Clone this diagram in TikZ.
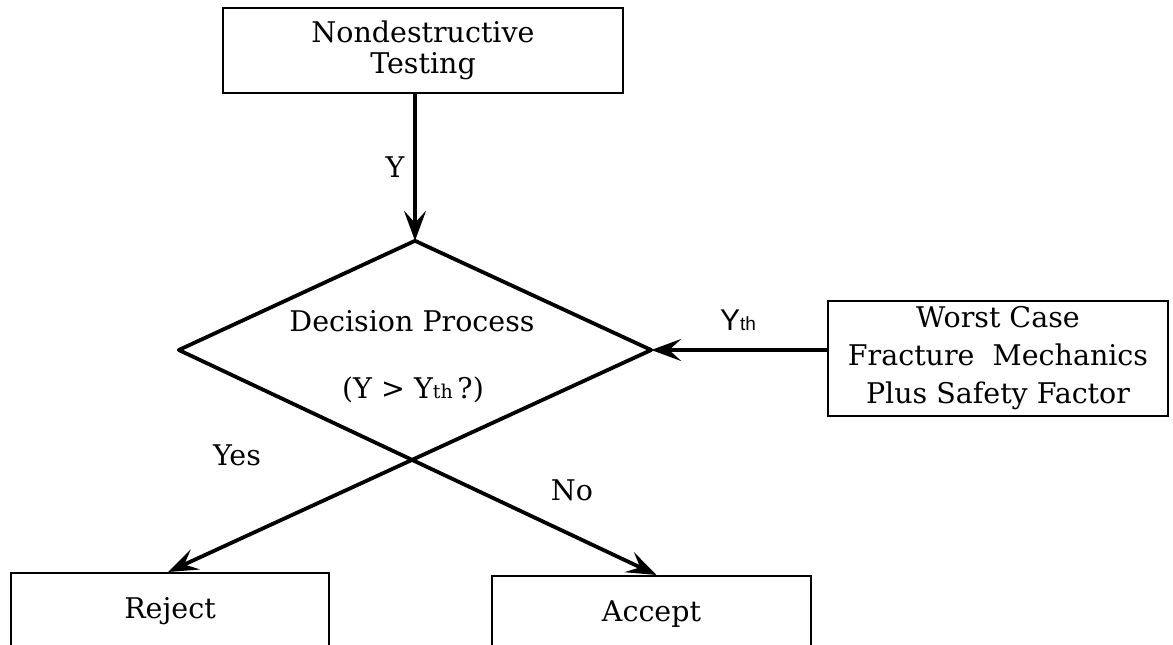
\documentclass[tikz,border=0pt]{standalone}
\usepackage{fontspec}
\setmainfont{DejaVu Serif}
\newfontfamily\labsans{Liberation Sans}
\usetikzlibrary{arrows.meta,shapes.geometric,calc}
\begin{document}
\begin{tikzpicture}[x=1pt,y=-1pt,
  every node/.style={font=\fontsize{28.5}{35}\selectfont},
  box/.style={draw, line width=2pt, inner sep=0pt, align=center},
  conn/.style={line width=3.8pt, line cap=round, -{Stealth[length=30pt,width=22pt,inset=12pt]}},
  rim/.style={line width=3.8pt, line join=miter, line cap=round}]
  \useasboundingbox (0,0) rectangle (1173,645);
  \clip (0,0) rectangle (1173,645);
  \fill[white] (0,0) rectangle (1173,645);

  % boxes
  \node[box, minimum width=400pt, minimum height=85pt,
        font=\fontsize{28.5}{31}\selectfont] (ndt) at (423,50.5) {Nondestructive\\Testing};
  \node[box, minimum width=340pt, minimum height=115pt,
        font=\fontsize{28.5}{38}\selectfont] (wc) at (998,358.5)
        {Worst Case\\Fracture~~Mechanics\\Plus Safety Factor};
  \node[box, minimum width=318pt, minimum height=76pt] (rej) at (170,611) {Reject};
  \node[box, minimum width=319pt, minimum height=76pt] (acc) at (651.5,614) {Accept};

  % decision diamond: upper edges drawn, lower edges continue as the two outcome arrows
  \node[diamond, minimum width=472pt, minimum height=218pt, inner sep=0pt] (dp) at (415,350) {};
  \draw[rim] (dp.west) -- (dp.north) -- (dp.east);
  \node (dpt1) at (412,321) {Decision Process};
  \node (dpt2) at (413,390) {(Y > Y{\fontsize{19}{19}\selectfont th}\,?)};

  % connectors
  \draw[conn] (ndt.south -| dp.north) -- (dp.north);
  \draw[conn] (wc.west |- dp.east) -- (dp.east);
  \draw[conn] (dp.east) -- ([xshift=-2pt]rej.north);
  \draw[conn] (dp.west) -- ([xshift=5pt]acc.north);

  % labels
  \node (ly) at (395,167) {Y};
  \node[font=\labsans\fontsize{30}{30}\selectfont] (lyth) at (738,320)
        {Y{\fontsize{19}{19}\selectfont th}};
  \node (lyes) at (237,455) {Yes};
  \node (lno) at (572,490) {No};
\end{tikzpicture}
\end{document}
